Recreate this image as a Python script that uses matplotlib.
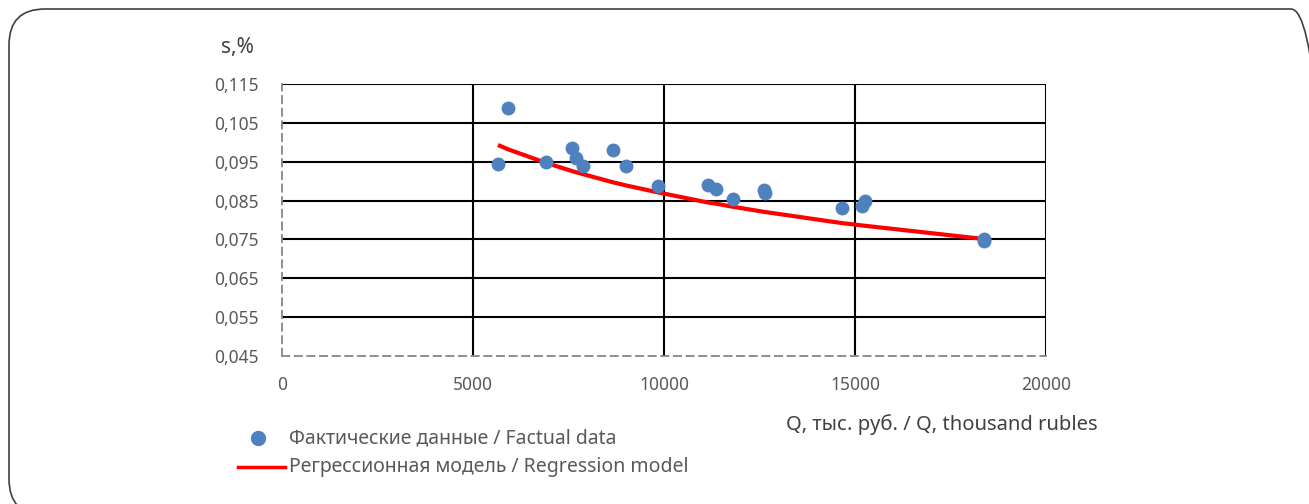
import matplotlib
matplotlib.use("Agg")
import matplotlib.pyplot as plt
from matplotlib.patches import FancyBboxPatch
from matplotlib.transforms import IdentityTransform

# Data
fact_q = [5654, 5916, 6911, 7592, 7696, 7880, 8665, 9005, 9843, 11152, 11361,
          11806, 12618, 12640, 14660, 15183, 15260, 18377, 18390]
fact_s = [0.0944, 0.1088, 0.0949, 0.0985, 0.0960, 0.0939, 0.0980, 0.0939, 0.0888,
          0.0890, 0.0880, 0.0854, 0.0876, 0.0869, 0.0831, 0.0837, 0.0850, 0.0752, 0.0745]

model_q = [5654, 5916, 6911, 7592, 7696, 7880, 8665, 9005, 9843, 11152, 11361,
           11806, 12618, 14660, 15183, 18377]
model_s = [0.0993, 0.0982, 0.0947, 0.0926, 0.0923, 0.0918, 0.0897, 0.0889, 0.0871,
           0.0845, 0.0842, 0.0834, 0.0821, 0.0792, 0.0786, 0.0751]

x_ticks = [0, 5000, 10000, 15000, 20000]
y_ticks = [0.045, 0.055, 0.065, 0.075, 0.085, 0.095, 0.105, 0.115]
y_tick_labels = ["0,045", "0,055", "0,065", "0,075", "0,085", "0,095", "0,105", "0,115"]

legend_fact = "Фактические данные / Factual data"
legend_model = "Регрессионная модель / Regression model"
y_title = "s,%"
x_title = "Q, тыс. руб. / Q, thousand rubles"

plt.rcParams['font.family'] = ['Noto Sans', 'DejaVu Sans']
W, H = 1309, 504
fig = plt.figure(figsize=(W / 100, H / 100), dpi=100)

# rounded border (pixel coordinates, origin bottom-left)
border = FancyBboxPatch((9, -11), 1327 - 9, H - 9 + 11,
                        boxstyle="round,pad=0,rounding_size=36",
                        transform=IdentityTransform(), fill=False,
                        edgecolor="#404040", linewidth=1.2)
fig.patches.append(border)

ax = fig.add_axes([282 / W, 1 - 356 / H, (1046 - 282) / W, (356 - 84) / H])
ax.set_xlim(0, 20000)
ax.set_ylim(0.045, 0.115)

# grid lines
for yv in y_ticks[1:]:
    ax.axhline(yv, color="black", lw=1.5, zorder=1)
for xv in x_ticks[1:]:
    ax.axvline(xv, color="black", lw=1.5, zorder=1)

for side in ["top", "right"]:
    ax.spines[side].set_visible(False)
for side in ["left", "bottom"]:
    ax.spines[side].set_color("#7f8a80")
    ax.spines[side].set_linestyle((0, (4, 3)))
    ax.spines[side].set_linewidth(1.3)

ax.set_xticks(x_ticks)
ax.set_xticklabels([str(v) for v in x_ticks])
ax.set_yticks(y_ticks)
ax.set_yticklabels(y_tick_labels)
ax.tick_params(axis="both", length=0, labelsize=12.5, labelcolor="#595959")
ax.tick_params(axis="y", pad=17)
ax.tick_params(axis="x", pad=14.5)

ax.plot(model_q, model_s, color="#ff0000", lw=3, zorder=3, solid_capstyle="butt")
ax.scatter(fact_q, fact_s, s=100, color="#4e81bd", zorder=4, linewidths=0)

fig.text(237 / W, 1 - 48 / H, y_title, ha="center", va="center",
         fontsize=15, color="#404040")
fig.text(942 / W, 1 - 425 / H, x_title, ha="center", va="center",
         fontsize=14.5, color="#404040")

# legend
fig.lines.append(plt.Line2D([258 / W], [1 - 438 / H], marker="o", markersize=10,
                            color="#4e81bd", linestyle="none",
                            transform=fig.transFigure))
fig.text(289 / W, 1 - 438 / H, legend_fact, ha="left", va="center",
         fontsize=14, color="#595959")
fig.lines.append(plt.Line2D([238 / W, 285 / W], [1 - 467 / H, 1 - 467 / H],
                            color="#ff0000", lw=2.5, transform=fig.transFigure))
fig.text(289 / W, 1 - 467 / H, legend_model, ha="left", va="center",
         fontsize=14, color="#595959")

fig.savefig("out.png", dpi=100)
